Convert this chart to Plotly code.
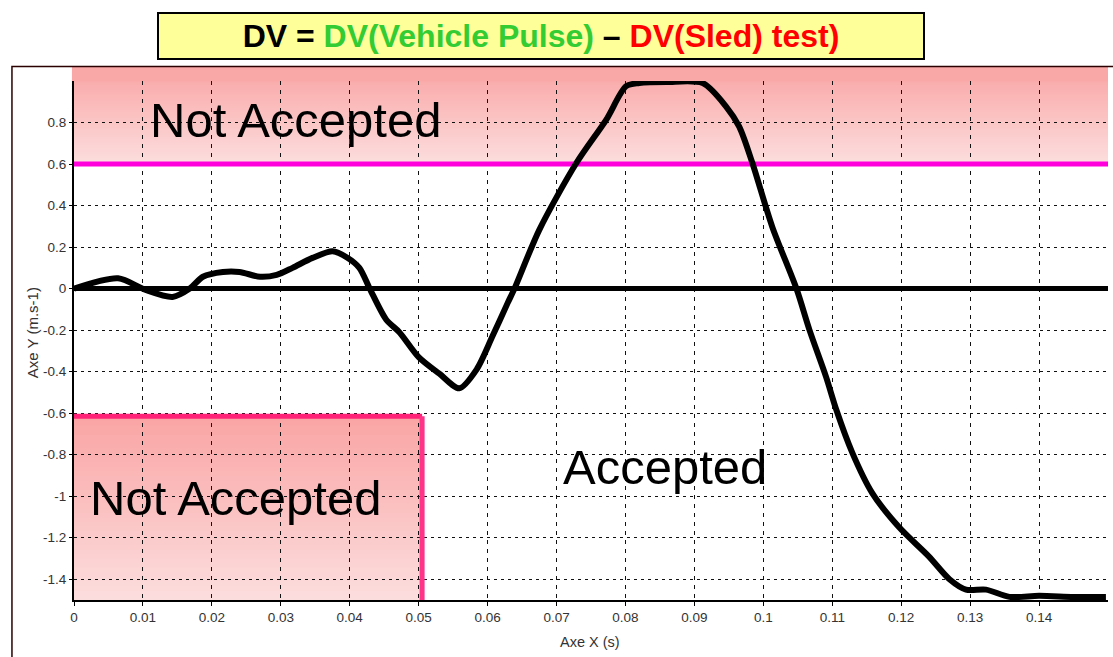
import plotly.graph_objects as go

# ---------------- data ----------------
time_s = [0, 0.0064, 0.0103, 0.0143, 0.0168, 0.0187, 0.0216, 0.024, 0.027, 0.0294,
          0.0317, 0.0346, 0.0375, 0.0396, 0.0414, 0.0429, 0.0453, 0.0472, 0.050, 0.053,
          0.0559, 0.0584, 0.0607, 0.0629, 0.0639, 0.0675, 0.0729, 0.0772, 0.0801, 0.082,
          0.086, 0.0912, 0.0946, 0.0965, 0.0984, 0.1013, 0.1048, 0.1067, 0.1091, 0.1106,
          0.1129, 0.1158, 0.1197, 0.124, 0.127, 0.1294, 0.1323, 0.1357, 0.14, 0.145, 0.1497]
dv = [0, 0.05, -0.005, -0.04, 0, 0.057, 0.08, 0.08, 0.057, 0.066,
      0.1, 0.148, 0.18, 0.15, 0.1, 0, -0.15, -0.21, -0.33, -0.41,
      -0.48, -0.39, -0.23, -0.07, 0, 0.283, 0.606, 0.813, 0.975, 0.99,
      0.995, 0.99, 0.877, 0.78, 0.606, 0.297, 0, -0.2, -0.425, -0.585,
      -0.79, -0.985, -1.15, -1.29, -1.40, -1.45, -1.45, -1.485, -1.48, -1.485, -1.485]

x_range = [0, 0.15]
y_range = [-1.5, 1.0]
x_tickvals = [0, 0.01, 0.02, 0.03, 0.04, 0.05, 0.06, 0.07, 0.08, 0.09, 0.10, 0.11, 0.12, 0.13, 0.14]
x_ticktext = ["0", "0.01", "0.02", "0.03", "0.04", "0.05", "0.06", "0.07", "0.08", "0.09",
              "0.1", "0.11", "0.12", "0.13", "0.14"]
y_tickvals = [0.8, 0.6, 0.4, 0.2, 0, -0.2, -0.4, -0.6, -0.8, -1.0, -1.2, -1.4]
y_ticktext = ["0.8", "0.6", "0.4", "0.2", "0", "-0.2", "-0.4", "-0.6", "-0.8", "-1", "-1.2", "-1.4"]

upper_limit = 0.6
lower_limit = -0.615
lower_limit_end = 0.0505

# ---------------- helpers ----------------
def lerp_color(c0, c1, t):
    return "rgb(%d,%d,%d)" % tuple(round(a + (b - a) * t) for a, b in zip(c0, c1))

DARK = (250, 164, 164)
LIGHT = (252, 222, 222)

shapes = []
N = 40
OVL = 0.006
top_frac_at_1 = 0.15
for i in range(N):
    y0 = upper_limit + (y_range[1] - upper_limit) * i / N
    y1 = upper_limit + (y_range[1] - upper_limit) * (i + 1) / N + (OVL if i < N - 1 else 0)
    t = (i + 0.5) / N * (1 - top_frac_at_1)
    shapes.append(dict(type="rect", xref="paper", yref="y", x0=-0.002, x1=1.0, y0=y0, y1=y1,
                       fillcolor=lerp_color(LIGHT, DARK, t), line_width=0, layer="below"))
shapes.append(dict(type="rect", xref="paper", yref="paper", x0=-0.002, x1=1.0, y0=0.999, y1=1.027,
                   fillcolor=lerp_color(LIGHT, DARK, 0.95), line_width=0, layer="below"))
for i in range(N):
    y0 = y_range[0] + (lower_limit - y_range[0]) * i / N
    y1 = y_range[0] + (lower_limit - y_range[0]) * (i + 1) / N + (OVL if i < N - 1 else 0)
    t = (i + 0.5) / N
    shapes.append(dict(type="rect", xref="x", yref="y", x0=-0.0003, x1=lower_limit_end, y0=y0, y1=y1,
                       fillcolor=lerp_color(LIGHT, DARK, t), line_width=0, layer="below"))
shapes.append(dict(type="rect", xref="paper", yref="paper", x0=-0.06, x1=1.01, y0=-0.2, y1=1.028,
                   line=dict(color="#2a0000", width=1.5), fillcolor="rgba(0,0,0,0)", layer="above"))

fig = go.Figure()

fig.add_trace(go.Scatter(x=x_range, y=[0, 0], mode="lines",
                         line=dict(color="black", width=5), hoverinfo="skip", showlegend=False))
fig.add_trace(go.Scatter(x=x_range, y=[upper_limit, upper_limit], mode="lines",
                         line=dict(color="#FF00DD", width=5), hoverinfo="skip", showlegend=False))
fig.add_trace(go.Scatter(x=[0, lower_limit_end], y=[lower_limit, lower_limit], mode="lines",
                         line=dict(color="#FF2277", width=5), hoverinfo="skip", showlegend=False))
fig.add_trace(go.Scatter(x=[lower_limit_end, lower_limit_end], y=[lower_limit, y_range[0]], mode="lines",
                         line=dict(color="#FF3388", width=5), hoverinfo="skip", showlegend=False))
fig.add_trace(go.Scatter(x=time_s, y=dv, mode="lines",
                         line=dict(color="black", width=6, shape="spline", smoothing=0.8),
                         showlegend=False))

tickfont = dict(family="Arial", size=13.5, color="#333333")
fig.update_xaxes(range=x_range, tickvals=x_tickvals, ticktext=x_ticktext,
                 showgrid=True, gridcolor="#111111", gridwidth=1, griddash="4px,5px",
                 showline=True, linecolor="black", linewidth=2, ticks="outside", ticklen=4,
                 tickcolor="black", tickfont=tickfont, zeroline=False)
fig.update_yaxes(range=y_range, tickvals=y_tickvals, ticktext=y_ticktext,
                 showgrid=True, gridcolor="#111111", gridwidth=1, griddash="3px,4px",
                 showline=True, linecolor="black", linewidth=2, ticks="outside", ticklen=3,
                 tickcolor="black", tickfont=tickfont, zeroline=False)

title_text = ("<b>DV = <span style='color:#33CC33'>DV(Vehicle Pulse)</span> "
              "\u2013 <span style='color:#FF0000'>DV(Sled) test)</span></b>")

annotations = [
    dict(text=title_text, xref="paper", yref="paper", x=0.4516, y=1.0867,
         xanchor="center", yanchor="middle", showarrow=False,
         font=dict(family="Arial", size=32, color="black"),
         bgcolor="#FFFF99", bordercolor="black", borderwidth=2, borderpad=0,
         width=764, height=44),
    dict(text="Not Accepted", xref="x", yref="y", x=0.0322, y=0.81, xanchor="center", yanchor="middle",
         showarrow=False, font=dict(family="Arial", size=49, color="black")),
    dict(text="Not Accepted", xref="x", yref="y", x=0.0235, y=-1.01, xanchor="center", yanchor="middle",
         showarrow=False, font=dict(family="Arial", size=49, color="black")),
    dict(text="Accepted", xref="x", yref="y", x=0.0857, y=-0.86, xanchor="center", yanchor="middle",
         showarrow=False, font=dict(family="Arial", size=49, color="black")),
    dict(text="Axe X (s)", xref="paper", yref="paper", x=0.499, y=-0.081, xanchor="center",
         yanchor="middle", showarrow=False, font=dict(family="Arial", size=14.5, color="#333333")),
    dict(text="Axe Y (m.s-1)", xref="paper", yref="paper", x=-0.0406, y=0.514, xanchor="center",
         yanchor="middle", textangle=-90, showarrow=False,
         font=dict(family="Arial", size=15, color="#333333")),
]

fig.update_layout(width=1113, height=657, margin=dict(l=74, r=5, t=81, b=57),
                  plot_bgcolor="white", paper_bgcolor="white",
                  shapes=shapes, annotations=annotations, showlegend=False)

fig.write_html("out.html", config={"displayModeBar": False},
               post_script="document.body.style.margin='0';")
